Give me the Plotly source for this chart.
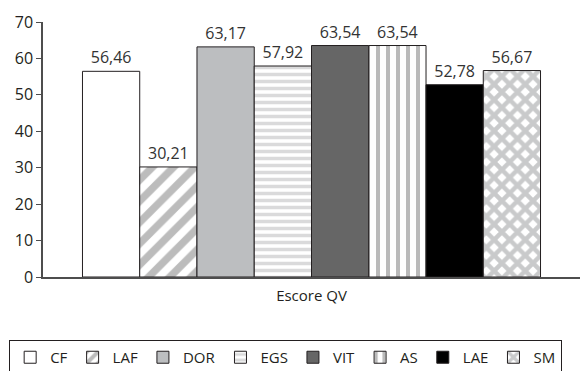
import plotly.graph_objects as go

categories = ["CF", "LAF", "DOR", "EGS", "VIT", "AS", "LAE", "SM"]
values = [56.46, 30.21, 63.17, 57.92, 63.54, 63.54, 52.78, 56.67]
group_label = "Escore QV"

fills = ["white", "white", "#bcbec0", "white", "#666666", "white", "#000000", "white"]
pattern_shapes = ["", "/", "", "-", "", "|", "", "x"]
pattern_colors = ["#808080", "#7a7a7a", "#808080", "#b5b6b8", "#808080", "#757575", "#808080", "#939598"]
pattern_sizes = [8, 15, 8, 7, 8, 10, 8, 11]
pattern_solid = [0.3, 0.5, 0.3, 0.5, 0.3, 0.4, 0.3, 0.65]

fig = go.Figure()
for i, name in enumerate(categories):
    fig.add_trace(go.Bar(
        x=[group_label], y=[values[i]], name=name,
        text=[f"{values[i]:.2f}".replace(".", ",")],
        textposition="outside",
        textfont=dict(size=16, color="#333333", family="Open Sans"),
        cliponaxis=False,
        marker=dict(
            color=fills[i],
            line=dict(color="#231f20", width=1),
            pattern=dict(shape=pattern_shapes[i], fgcolor=pattern_colors[i],
                         bgcolor=fills[i], size=pattern_sizes[i],
                         solidity=pattern_solid[i], fillmode="overlay"),
        ),
    ))

fig.update_layout(
    width=580, height=371,
    margin=dict(l=43, r=0, t=22, b=94, autoexpand=False),
    paper_bgcolor="white", plot_bgcolor="white",
    barmode="group", bargap=0.147, bargroupgap=0,
    font=dict(family="Open Sans", size=16, color="#231f20"),
    showlegend=True,
    legend=dict(orientation="h", x=-0.063, y=-0.247, xanchor="left", yanchor="top",
                bordercolor="#231f20", borderwidth=1, bgcolor="white",
                font=dict(size=15, color="#231f20"), traceorder="normal",
                entrywidth=0, itemwidth=30, tracegroupgap=0),
)
fig.update_yaxes(range=[0, 70], dtick=10, showline=True, linecolor="#4d4d4d", linewidth=1.5,
                 ticks="outside", ticklen=5, tickcolor="#4d4d4d", showgrid=False,
                 zeroline=False, tickfont=dict(size=16, color="#231f20"))
fig.update_xaxes(showline=True, linecolor="#4d4d4d", linewidth=1.5, ticks="", showgrid=False,
                 ticklabelstandoff=4, tickfont=dict(size=15, color="#231f20"))

fig.write_html("out.html")
